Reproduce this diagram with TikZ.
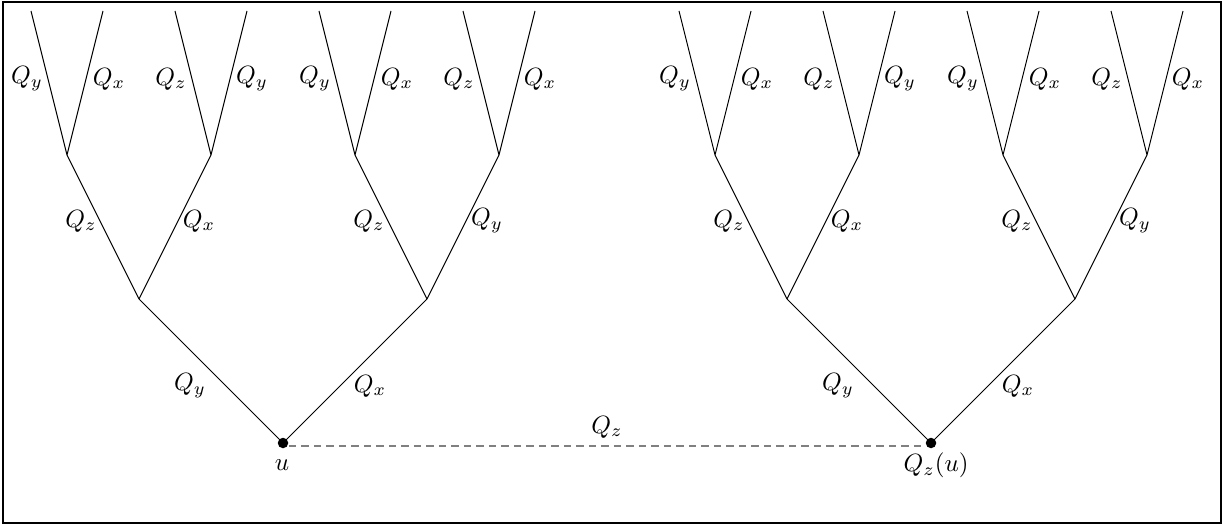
\documentclass[tikz,border=0pt]{standalone}
\begin{document}
\begin{tikzpicture}[x=0.4pt,y=-0.4pt,
  edge/.style={draw=black,line width=0.4pt},
  dot/.style={circle,fill=black,inner sep=0pt,minimum size=4.2pt},
  lab/.style={inner sep=0pt},
  link/.style={draw=gray,densely dashed,line width=0.5pt}]
\useasboundingbox (0,0) rectangle (1223,525);
\draw[line width=0.8pt] (3,2) rectangle (1221,522.5);
% ---------- left tree ----------
\node[dot] (u) at (283,443) {};
\coordinate (a) at (139,299);
\coordinate (b) at (427,299);
\coordinate (a1) at (67,155);
\coordinate (a2) at (211,155);
\coordinate (b1) at (355,155);
\coordinate (b2) at (499,155);
\coordinate (a1l) at (31,11);  \coordinate (a1r) at (103,11);
\coordinate (a2l) at (175,11); \coordinate (a2r) at (247,11);
\coordinate (b1l) at (319,11); \coordinate (b1r) at (391,11);
\coordinate (b2l) at (463,11); \coordinate (b2r) at (535,11);
\draw[edge] (u.center) -- (a) (u.center) -- (b);
\draw[edge] (a) -- (a1) (a) -- (a2) (b) -- (b1) (b) -- (b2);
\draw[edge] (a1) -- (a1l) (a1) -- (a1r) (a2) -- (a2l) (a2) -- (a2r);
\draw[edge] (b1) -- (b1l) (b1) -- (b1r) (b2) -- (b2l) (b2) -- (b2r);
\node[lab] (lu) at (282,465) {$u$};
\node[lab] (l1) at (190,386) {$Q_y$};
\node[lab] (l2) at (370,386) {$Q_x$};
\node[lab] (l3) at (81,221) {$Q_z$};
\node[lab] (l4) at (199,221) {$Q_x$};
\node[lab] (l5) at (369,221) {$Q_z$};
\node[lab] (l6) at (487,221) {$Q_y$};
\node[lab] (l7) at (27,79) {$Q_y$};
\node[lab] (l8) at (109,79) {$Q_x$};
\node[lab] (l9) at (171,79) {$Q_z$};
\node[lab] (l10) at (252,79) {$Q_y$};
\node[lab] (l11) at (315,79) {$Q_y$};
\node[lab] (l12) at (397,79) {$Q_x$};
\node[lab] (l13) at (459,79) {$Q_z$};
\node[lab] (l14) at (540,79) {$Q_x$};
% ---------- right tree ----------
\node[dot] (v) at (931,443) {};
\coordinate (c) at (787,299);
\coordinate (d) at (1075,299);
\coordinate (c1) at (715,155);
\coordinate (c2) at (859,155);
\coordinate (d1) at (1003,155);
\coordinate (d2) at (1147,155);
\coordinate (c1l) at (679,11);  \coordinate (c1r) at (751,11);
\coordinate (c2l) at (823,11);  \coordinate (c2r) at (895,11);
\coordinate (d1l) at (967,11);  \coordinate (d1r) at (1039,11);
\coordinate (d2l) at (1111,11); \coordinate (d2r) at (1183,11);
\draw[edge] (v.center) -- (c) (v.center) -- (d);
\draw[edge] (c) -- (c1) (c) -- (c2) (d) -- (d1) (d) -- (d2);
\draw[edge] (c1) -- (c1l) (c1) -- (c1r) (c2) -- (c2l) (c2) -- (c2r);
\draw[edge] (d1) -- (d1l) (d1) -- (d1r) (d2) -- (d2l) (d2) -- (d2r);
\node[lab] (lv) at (936,465) {$Q_z(u)$};
\node[lab] (r1) at (838,386) {$Q_y$};
\node[lab] (r2) at (1018,386) {$Q_x$};
\node[lab] (r3) at (729,221) {$Q_z$};
\node[lab] (r4) at (847,221) {$Q_x$};
\node[lab] (r5) at (1017,221) {$Q_z$};
\node[lab] (r6) at (1135,221) {$Q_y$};
\node[lab] (r7) at (675,79) {$Q_y$};
\node[lab] (r8) at (757,79) {$Q_x$};
\node[lab] (r9) at (819,79) {$Q_z$};
\node[lab] (r10) at (900,79) {$Q_y$};
\node[lab] (r11) at (963,79) {$Q_y$};
\node[lab] (r12) at (1045,79) {$Q_x$};
\node[lab] (r13) at (1107,79) {$Q_z$};
\node[lab] (r14) at (1188,79) {$Q_x$};
% ---------- link ----------
\draw[link] ([yshift=-1.2pt]u.east) -- node[lab,above=3pt] (lz) {$Q_z$} ([yshift=-1.2pt]v.west);
\end{tikzpicture}
\end{document}
